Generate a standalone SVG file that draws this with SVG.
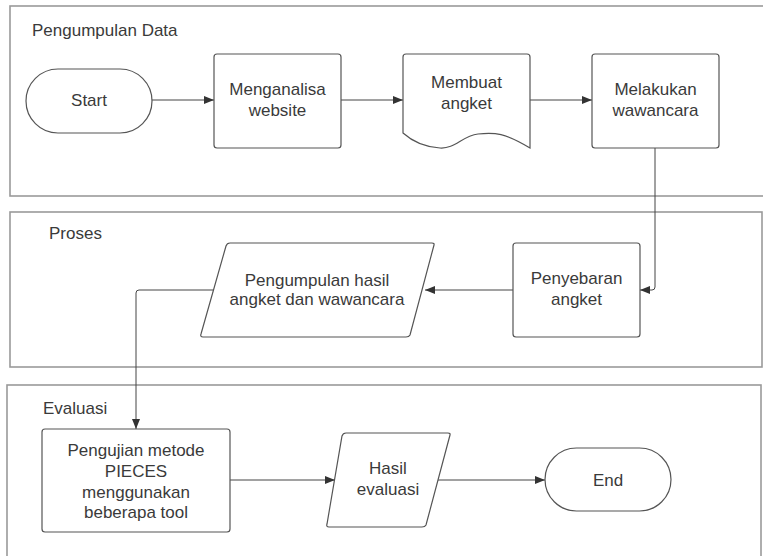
<svg xmlns="http://www.w3.org/2000/svg" width="763" height="556" viewBox="0 0 763 556">
<style>
.panel{fill:#fff;stroke:#9a9a9a;stroke-width:1.6}
.shape{fill:#fff;stroke:#555;stroke-width:1.2}
.conn{fill:none;stroke:#444;stroke-width:1}
text{font-family:"Liberation Sans",Arial,sans-serif;font-size:17px;fill:#3a3a3a}
.c{text-anchor:middle}
</style>
<defs>
<marker id="arr" viewBox="0 0 10 8" refX="10" refY="4" markerWidth="10" markerHeight="8" markerUnits="userSpaceOnUse" orient="auto">
<path d="M0,0 L10,4 L0,8 Z" fill="#333"/>
</marker>
</defs>
<g id="lanes">
<rect class="panel" x="10" y="6" width="770" height="190"/>
<rect class="panel" x="10" y="212" width="752" height="155"/>
<rect class="panel" x="7" y="385" width="754" height="185"/>
<text x="32" y="36">Pengumpulan Data</text>
<text x="49" y="239">Proses</text>
<text x="43" y="414">Evaluasi</text>
</g>
<g id="connectors">
<line class="conn" x1="152" y1="100" x2="214" y2="100" marker-end="url(#arr)"/>
<line class="conn" x1="341" y1="100" x2="403" y2="100" marker-end="url(#arr)"/>
<line class="conn" x1="530" y1="100" x2="592" y2="100" marker-end="url(#arr)"/>
<path class="conn" d="M655,148 V287 Q655,290 652,290 H640" marker-end="url(#arr)"/>
<line class="conn" x1="513" y1="290" x2="425" y2="290" marker-end="url(#arr)"/>
<path class="conn" d="M213,290 H139 Q136,290 136,293 V429" marker-end="url(#arr)"/>
<line class="conn" x1="230" y1="480" x2="335" y2="480" marker-end="url(#arr)"/>
<line class="conn" x1="437" y1="480" x2="545" y2="480" marker-end="url(#arr)"/>
</g>
<g id="start">
<rect class="shape" x="26" y="69" width="126" height="64" rx="32"/>
<text class="c" x="89" y="106">Start</text>
</g>
<g id="menganalisa">
<rect class="shape" x="214" y="54" width="127" height="94" rx="3"/>
<text class="c" x="277.5" y="95">Menganalisa</text>
<text class="c" x="277.5" y="116">website</text>
</g>
<g id="membuat">
<path class="shape" d="M406,54 H527 Q530,54 530,57 V148 C505,133 495,132 478,134 C462,136 455,149 440,148 C425,147 413,142 403,133 V57 Q403,54 406,54 Z"/>
<text class="c" x="466.5" y="88">Membuat</text>
<text class="c" x="466.5" y="109">angket</text>
</g>
<g id="melakukan">
<rect class="shape" x="592" y="54" width="127" height="94" rx="3"/>
<text class="c" x="655.5" y="95">Melakukan</text>
<text class="c" x="655.5" y="116">wawancara</text>
</g>
<g id="penyebaran">
<rect class="shape" x="513" y="243" width="127" height="94" rx="3"/>
<text class="c" x="576.5" y="284">Penyebaran</text>
<text class="c" x="576.5" y="305">angket</text>
</g>
<g id="pengumpulan">
<path class="shape" d="M230,243 H432 Q434.5,243 434,245 L410,335 Q409,337 406,337 H203 Q200,337 201,334 L226,246 Q227,243 230,243 Z"/>
<text class="c" x="317" y="286">Pengumpulan hasil</text>
<text class="c" x="317" y="305">angket dan wawancara</text>
</g>
<g id="pengujian">
<rect class="shape" x="42" y="429" width="188" height="103" rx="3"/>
<text class="c" x="136" y="456">Pengujian metode</text>
<text class="c" x="136" y="477">PIECES</text>
<text class="c" x="136" y="498">menggunakan</text>
<text class="c" x="136" y="518">beberapa tool</text>
</g>
<g id="hasil">
<path class="shape" d="M346,433 H448 Q450.5,433 450,435 L426,525 Q425,527 422,527 H329 Q326,527 327,524 L342,436 Q343,433 346,433 Z"/>
<text class="c" x="388" y="474">Hasil</text>
<text class="c" x="388" y="495">evaluasi</text>
</g>
<g id="end">
<rect class="shape" x="545" y="448" width="126" height="63" rx="31.5"/>
<text class="c" x="608" y="486">End</text>
</g>
</svg>
